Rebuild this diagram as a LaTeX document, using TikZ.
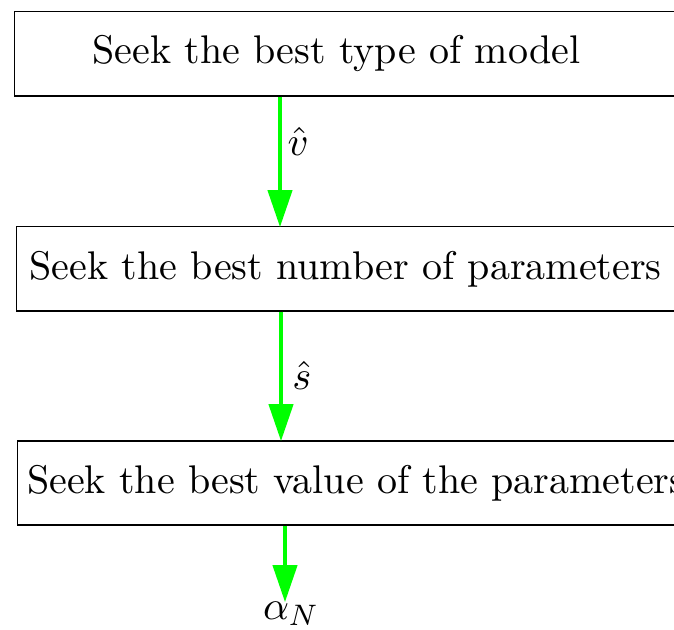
\documentclass[tikz,border=0pt]{standalone}
\usetikzlibrary{arrows.meta}
\definecolor{flowgreen}{RGB}{0,255,0}
\begin{document}
\begin{tikzpicture}[x=0.27pt,y=-0.27pt,
  every node/.style={font=\fontsize{10.8}{13}\selectfont},
  stagebox/.style={draw,line width=0.4pt,rectangle,minimum width=200pt,minimum height=22.7pt,text width=195pt,align=left,inner xsep=1.1pt,inner ysep=0pt,anchor=north west},
  flowarrow/.style={draw=flowgreen,line width=1.1pt,-{Triangle[length=10pt,width=6.5pt]},shorten >=-0.3pt}]
\useasboundingbox (0,0) rectangle (674,629);
\clip (0,0) rectangle (674,629);
\node[stagebox] (b1) at (14,11) {\hspace*{18.5pt}Seek the best type of model};
\node[stagebox] (b2) at (16,226) {\hspace*{1pt}Seek the best number of parameters};
\node[stagebox] (b3) at (17,440) {Seek the best value of the parameters};
\node[inner sep=0pt,anchor=north] (out) at (291,601) {$\alpha_N$};
\coordinate (t1) at (280,0);
\coordinate (t2) at (281,0);
\coordinate (t3) at (285,0);
\draw[flowarrow] (b1.south -| t1) -- node[right,black,inner xsep=1.5pt,yshift=2.5pt,pos=0.42] {$\hat{v}$} (b2.north -| t1);
\draw[flowarrow] (b2.south -| t2) -- node[right,black,inner xsep=2.5pt] {$\hat{s}$} (b3.north -| t2);
\draw[flowarrow] (b3.south -| t3) -- (out.north -| t3);
\end{tikzpicture}
\end{document}
